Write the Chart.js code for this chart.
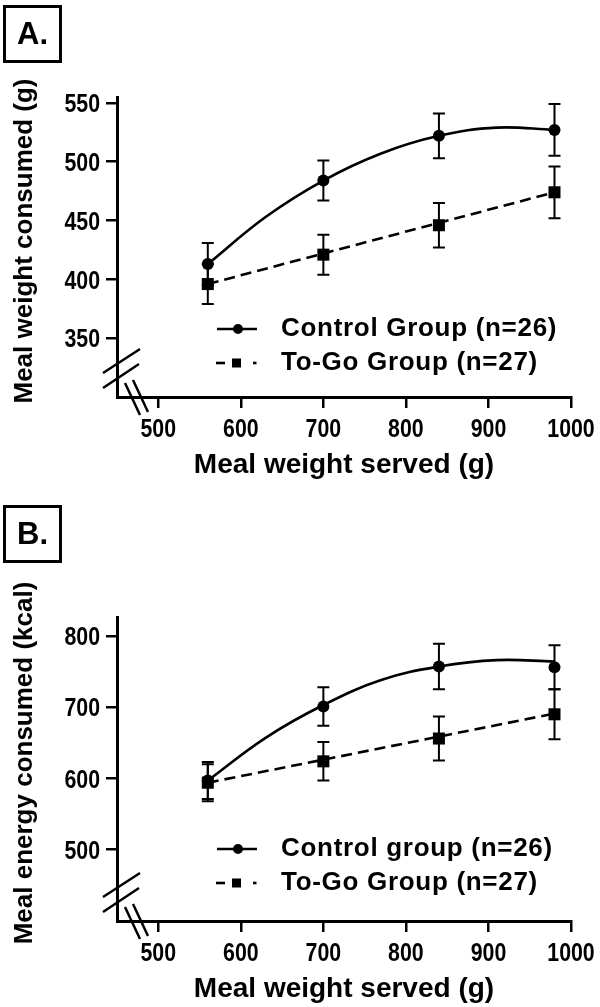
<!DOCTYPE html>
<html>
<head>
<meta charset="utf-8">
<script src="https://cdn.jsdelivr.net/npm/chart.js@4.4.1/dist/chart.umd.min.js"></script>
<style>
  html, body { margin: 0; padding: 0; background: #fff; }
  body { width: 600px; height: 1007px; position: relative; overflow: hidden; font-family: "Liberation Sans", Arial, sans-serif; }
  .panel { position: absolute; left: 0; width: 600px; }
  .tag { position: absolute; left: 3px; width: 53px; height: 52px; border: 3px solid #000; font-weight: bold; font-size: 31px; line-height: 52px; text-align: center; }
</style>
</head>
<body>
<div class="panel" style="top:0;height:500px"><canvas id="chartA" width="600" height="500"></canvas></div>
<div class="panel" style="top:500px;height:507px"><canvas id="chartB" width="600" height="507"></canvas></div>
<div class="tag" style="top:5px">A.</div>
<div class="tag" style="top:505px">B.</div>
<script>
// meal weight served (g), same for both panels
var servedX = [560, 700, 840, 980];
var xTicks = [500, 600, 700, 800, 900, 1000];

// A. meal weight consumed (g), mean and SEM
var controlWeight = [413, 484, 522, 527];
var controlWeightErr = [18, 17, 19, 22];
var togoWeight = [396, 421, 446, 474];
var togoWeightErr = [17, 17, 19, 22];
var weightTicks = [350, 400, 450, 500, 550];
// fitted curves
var fitX = [560, 630, 700, 770, 840, 910, 980];
var controlWeightFit = [413, 453, 484, 507, 522, 529, 527];
var lineX = [560, 980];
var togoWeightFit = [396, 474];

// B. meal energy consumed (kcal), mean and SEM
var controlEnergy = [597, 701, 757, 756];
var controlEnergyErr = [26, 27, 32, 31];
var togoEnergy = [594, 624, 656, 690];
var togoEnergyErr = [26, 27, 31, 35];
var energyTicks = [500, 600, 700, 800];
var controlEnergyFit = [597, 657, 703, 738, 757, 766, 764];
var togoEnergyFit = [594, 691];

Chart.defaults.font.family = '"Liberation Sans", Arial, sans-serif';
Chart.defaults.font.weight = 'bold';
Chart.defaults.color = '#000';

function points(xs, ys, errs) {
    return xs.map(function (x, i) { return { x: x, y: ys[i], err: errs ? errs[i] : null }; });
}

var errorBars = {
    id: 'errorBars',
    beforeDatasetsDraw: function (chart) {
        var ctx = chart.ctx, xs = chart.scales.x, ys = chart.scales.y;
        ctx.save();
        ctx.strokeStyle = '#000';
        ctx.lineWidth = 2;
        chart.data.datasets.forEach(function (ds) {
            ds.data.forEach(function (p) {
                if (p.err == null) return;
                var x = xs.getPixelForValue(p.x);
                var top = ys.getPixelForValue(p.y + p.err);
                var bot = ys.getPixelForValue(p.y - p.err);
                ctx.beginPath();
                ctx.moveTo(x, top); ctx.lineTo(x, bot);
                ctx.moveTo(x - 6, top); ctx.lineTo(x + 6, top);
                ctx.moveTo(x - 6, bot); ctx.lineTo(x + 6, bot);
                ctx.stroke();
            });
        });
        ctx.restore();
    }
};

// tick numbers in a condensed bold face (squeezed Liberation Sans)
var tickLabels = {
    id: 'tickLabels',
    afterDraw: function (chart) {
        var ctx = chart.ctx, xs = chart.scales.x, ys = chart.scales.y, a = chart.chartArea;
        var squeeze = 0.82;
        ctx.save();
        ctx.fillStyle = '#000';
        ctx.font = 'bold 26px "Liberation Sans", Arial, sans-serif';
        ctx.textBaseline = 'alphabetic';
        xs.ticks.forEach(function (t) {
            var x = xs.getPixelForValue(t.value);
            ctx.save();
            ctx.translate(x, a.bottom + 40);
            ctx.scale(squeeze, 1);
            ctx.textAlign = 'center';
            ctx.fillText(String(t.value), 0, 0);
            ctx.restore();
        });
        ys.ticks.forEach(function (t) {
            var y = ys.getPixelForValue(t.value);
            ctx.save();
            ctx.translate(a.left - 17, y + 9.3);
            ctx.scale(squeeze, 1);
            ctx.textAlign = 'right';
            ctx.fillText(String(t.value), 0, 0);
            ctx.restore();
        });
        ctx.restore();
    }
};

function decorations(yTitle, legendLabels) {
    return {
        id: 'decor',
        afterDraw: function (chart) {
            var ctx = chart.ctx, a = chart.chartArea;
            var L = a.left, B = a.bottom, T = a.top;
            ctx.save();
            ctx.strokeStyle = '#000';
            ctx.fillStyle = '#000';

            // axis break marks
            ctx.lineWidth = 2.5;
            ctx.beginPath();
            ctx.moveTo(L - 14, B - 24); ctx.lineTo(L + 23, B - 48);
            ctx.moveTo(L - 14, B - 9); ctx.lineTo(L + 22, B - 33);
            ctx.moveTo(L + 8, B - 14); ctx.lineTo(L + 23, B + 18);
            ctx.moveTo(L + 16, B - 17); ctx.lineTo(L + 31, B + 15);
            ctx.stroke();

            // y axis title
            ctx.save();
            ctx.translate(25, (T + B) / 2 - 6);
            ctx.rotate(-Math.PI / 2);
            ctx.font = 'bold 26px "Liberation Sans", Arial, sans-serif';
            ctx.textAlign = 'center';
            ctx.textBaseline = 'middle';
            ctx.fillText(yTitle, 0, 0);
            ctx.restore();

            // legend inside the plot
            var r0 = T + 232, r1 = T + 266;
            ctx.lineWidth = 2.6;
            ctx.beginPath();
            ctx.moveTo(L + 100, r0); ctx.lineTo(L + 140, r0);
            ctx.stroke();
            ctx.beginPath();
            ctx.arc(L + 121, r0, 5, 0, 2 * Math.PI);
            ctx.fill();
            ctx.fillRect(L + 99, r1 - 1.3, 9, 2.6);
            ctx.fillRect(L + 115, r1 - 4.5, 9, 9);
            ctx.fillRect(L + 136, r1 - 1.3, 3.5, 2.6);

            ctx.font = 'bold 26px "Liberation Sans", Arial, sans-serif';
            ctx.letterSpacing = '0.7px';
            ctx.textAlign = 'left';
            ctx.textBaseline = 'middle';
            ctx.fillText(legendLabels[0], L + 164, r0);
            ctx.fillText(legendLabels[1], L + 164, r1);
            ctx.restore();
        }
    };
}

function buildChart(id, o) {
    var ctx = document.getElementById(id).getContext('2d');
    return new Chart(ctx, {
        type: 'line',
        data: {
            datasets: [{
                label: o.labels[0] + ' fit',
                data: points(fitX, o.controlFit),
                borderColor: '#000',
                borderWidth: 2.6,
                tension: 0.4,
                pointRadius: 0
            }, {
                label: o.labels[1] + ' fit',
                data: points(lineX, o.togoFit),
                borderColor: '#000',
                borderWidth: 2.6,
                borderDash: [11, 6],
                tension: 0,
                pointRadius: 0
            }, {
                label: o.labels[0],
                data: points(servedX, o.control, o.controlErr),
                showLine: false,
                backgroundColor: '#000',
                pointStyle: 'circle',
                pointRadius: 6,
                pointBorderWidth: 0
            }, {
                label: o.labels[1],
                data: points(servedX, o.togo, o.togoErr),
                showLine: false,
                backgroundColor: '#000',
                pointStyle: 'rect',
                pointRadius: 8.5,
                pointBorderWidth: 0
            }]
        },
        options: {
            responsive: false,
            animation: false,
            events: [],
            layout: { padding: { top: o.padTop, right: 29, bottom: o.padBottom, left: 0 } },
            plugins: { legend: { display: false }, tooltip: { enabled: false } },
            scales: {
                x: {
                    type: 'linear',
                    min: 450,
                    max: 1000,
                    afterBuildTicks: function (s) { s.ticks = xTicks.map(function (v) { return { value: v }; }); },
                    afterFit: function (s) { s.height = 86; },
                    grid: { drawOnChartArea: false, tickLength: 11, color: '#000', lineWidth: 2.5 },
                    border: { color: '#000', width: 3 },
                    ticks: { padding: 6, maxRotation: 0, autoSkip: false, color: 'rgba(0,0,0,0)',
                             callback: function (v) { return String(v); } },
                    title: { display: true, text: 'Meal weight served (g)',
                             font: { size: 28, weight: 'bold' }, padding: { top: 0, bottom: 1 } }
                },
                y: {
                    type: 'linear',
                    min: o.yMin,
                    max: o.yMax,
                    afterBuildTicks: function (s) { s.ticks = o.yTicks.map(function (v) { return { value: v }; }); },
                    afterFit: function (s) { s.width = 117; },
                    grid: { drawOnChartArea: false, tickLength: 11, color: '#000', lineWidth: 2.5 },
                    border: { color: '#000', width: 3 },
                    ticks: { padding: 6, autoSkip: false, color: 'rgba(0,0,0,0)',
                             callback: function (v) { return String(v); } }
                }
            }
        },
        plugins: [errorBars, tickLabels, decorations(o.yTitle, o.labels)]
    });
}

buildChart('chartA', {
    labels: ['Control Group (n=26)', 'To-Go Group (n=27)'],
    control: controlWeight, controlErr: controlWeightErr,
    togo: togoWeight, togoErr: togoWeightErr,
    controlFit: controlWeightFit, togoFit: togoWeightFit,
    yTicks: weightTicks, yMin: 300, yMax: 555,
    yTitle: 'Meal weight consumed (g)',
    padTop: 97, padBottom: 17
});

buildChart('chartB', {
    labels: ['Control group (n=26)', 'To-Go Group (n=27)'],
    control: controlEnergy, controlErr: controlEnergyErr,
    togo: togoEnergy, togoErr: togoEnergyErr,
    controlFit: controlEnergyFit, togoFit: togoEnergyFit,
    yTicks: energyTicks, yMin: 400, yMax: 826.5,
    yTitle: 'Meal energy consumed (kcal)',
    padTop: 117, padBottom: 0
});
</script>
</body>
</html>
